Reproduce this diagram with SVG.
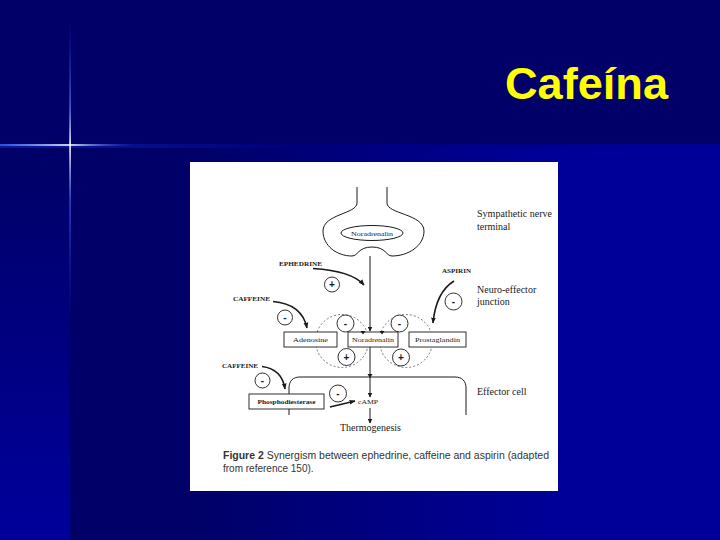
<svg xmlns="http://www.w3.org/2000/svg" width="720" height="540" viewBox="0 0 720 540">
  <defs>
    <linearGradient id="gLow" gradientUnits="userSpaceOnUse" x1="190" y1="0" x2="560" y2="0">
      <stop offset="0" stop-color="#000068"/>
      <stop offset="1" stop-color="#000099"/>
    </linearGradient>
    <linearGradient id="gLeft" gradientUnits="userSpaceOnUse" x1="0" y1="160" x2="0" y2="520">
      <stop offset="0" stop-color="#000068"/>
      <stop offset="1" stop-color="#000099"/>
    </linearGradient>
    <linearGradient id="gBand" gradientUnits="userSpaceOnUse" x1="0" y1="0" x2="720" y2="0">
      <stop offset="0" stop-color="#0a20a8"/>
      <stop offset="0.4" stop-color="#00007c"/>
      <stop offset="1" stop-color="#000099"/>
    </linearGradient>
    <linearGradient id="gV" gradientUnits="userSpaceOnUse" x1="0" y1="20" x2="0" y2="320">
      <stop offset="0" stop-color="#2040ff" stop-opacity="0"/>
      <stop offset="0.3" stop-color="#6f8fff" stop-opacity="0.7"/>
      <stop offset="0.417" stop-color="#ffffff"/>
      <stop offset="0.6" stop-color="#5070ff" stop-opacity="0.6"/>
      <stop offset="1" stop-color="#2040ff" stop-opacity="0"/>
    </linearGradient>
    <linearGradient id="gH" gradientUnits="userSpaceOnUse" x1="0" y1="0" x2="135" y2="0">
      <stop offset="0" stop-color="#3f6cff" stop-opacity="0.8"/>
      <stop offset="0.52" stop-color="#ffffff"/>
      <stop offset="1" stop-color="#2a4cff" stop-opacity="0"/>
    </linearGradient>
    <marker id="ah" viewBox="0 0 10 10" refX="9" refY="5" markerWidth="5" markerHeight="5" markerUnits="userSpaceOnUse" orient="auto">
      <path d="M0,0 L10,5 L0,10 Z" fill="#1a1a1a"/>
    </marker>
    <marker id="ahs" viewBox="0 0 10 10" refX="9" refY="5" markerWidth="6" markerHeight="6" markerUnits="userSpaceOnUse" orient="auto">
      <path d="M0,1 L10,5 L0,9 Z" fill="#1a1a1a"/>
    </marker>
  </defs>
  <style>
    .ln { fill: none; stroke: #1a1a1a; stroke-width: 1; }
    .crv { fill: none; stroke: #1a1a1a; stroke-width: 1.6; }
    .dash { fill: none; stroke: #555; stroke-width: 0.8; stroke-dasharray: 2 2; }
    .box { fill: #fff; stroke: #1a1a1a; stroke-width: 0.9; }
    .sgn { fill: #fff; stroke: #1a1a1a; stroke-width: 0.9; }
    .st { font-family: "Liberation Sans", Arial, sans-serif; fill: #1a1a1a; font-size: 10px; font-weight: bold; text-anchor: middle; }
    .bx { font-family: "Liberation Serif", "Times New Roman", serif; fill: #1a1a1a; font-size: 6.5px; text-anchor: middle; }
    .cap { font-family: "Liberation Serif", "Times New Roman", serif; fill: #1a1a1a; font-size: 6.5px; font-weight: bold; }
    .lbl { font-family: "Liberation Serif", "Times New Roman", serif; fill: #1a1a1a; font-size: 10px; }
    .fig { font-family: "Liberation Sans", Arial, sans-serif; fill: #333; font-size: 10px; }
  </style>

  <!-- background -->
  <rect x="0" y="0" width="720" height="540" fill="#000068"/>
  <rect x="0" y="145" width="720" height="395" fill="url(#gLow)"/>
  <rect x="0" y="145" width="70" height="395" fill="url(#gLeft)"/>
  <rect x="0" y="144" width="720" height="4" fill="url(#gBand)" opacity="0.8"/>
  <rect x="69.3" y="20" width="1.6" height="300" fill="url(#gV)"/>
  <rect x="0" y="144.2" width="135" height="1.6" fill="url(#gH)"/>

  <text x="505" y="99" font-family="Liberation Sans, Arial, sans-serif" font-weight="bold" font-size="45" fill="#ffff00" textLength="163" lengthAdjust="spacingAndGlyphs">Cafeína</text>

  <!-- figure panel -->
  <rect x="190" y="162" width="368" height="329" fill="#ffffff"/>

  <g id="nerve-terminal">
    <path class="ln" d="M357,187 L357,203 C357,214 323,214 323,231 C323,246 337,256 352,256 C358,256 358,247 372,247 C386,247 386,256 392,256 C408,256 424,246 424,231 C424,214 387,214 387,203 L387,187"/>
    <ellipse class="ln" cx="372" cy="233" rx="31" ry="7.5"/>
    <text class="bx" x="372" y="235.5" textLength="42" lengthAdjust="spacingAndGlyphs">Noradrenalin</text>
  </g>

  <g id="label-sympathetic">
    <text class="lbl" x="477" y="217" textLength="75" lengthAdjust="spacingAndGlyphs">Sympathetic nerve</text>
    <text class="lbl" x="477" y="230">terminal</text>
  </g>

  <g id="ephedrine">
    <text class="cap" x="279" y="266" textLength="43" lengthAdjust="spacingAndGlyphs">EPHEDRINE</text>
    <circle class="sgn" cx="332" cy="284.5" r="7.5"/>
    <text class="st" x="332" y="288">+</text>
  </g>

  <g id="caffeine-1">
    <text class="cap" x="233" y="301" textLength="37" lengthAdjust="spacingAndGlyphs">CAFFEINE</text>
    <circle class="sgn" cx="285" cy="317.5" r="7.5"/>
    <text class="st" x="285" y="321">-</text>
  </g>

  <g id="aspirin">
    <text class="cap" x="442" y="273" textLength="29" lengthAdjust="spacingAndGlyphs">ASPIRIN</text>
    <circle class="sgn" cx="453.5" cy="301.5" r="8.5"/>
    <text class="st" x="453.5" y="305">-</text>
  </g>

  <g id="label-junction">
    <text class="lbl" x="477" y="293">Neuro-effector</text>
    <text class="lbl" x="477" y="305">junction</text>
  </g>

  <g id="receptors">
    <circle class="dash" cx="342" cy="341" r="26.5"/>
    <circle class="dash" cx="406" cy="341" r="26.5"/>
    <circle class="sgn" cx="345.5" cy="323.5" r="8.5"/>
    <text class="st" x="345.5" y="327">-</text>
    <circle class="sgn" cx="346.5" cy="357" r="8.5"/>
    <text class="st" x="346.5" y="360.5">+</text>
    <circle class="sgn" cx="399.5" cy="323.5" r="8.5"/>
    <text class="st" x="399.5" y="327">-</text>
    <circle class="sgn" cx="401" cy="357.5" r="8.5"/>
    <text class="st" x="401" y="361">+</text>
  </g>

  <g id="adenosine">
    <rect class="box" x="284" y="332" width="53" height="15"/>
    <text class="bx" x="310.5" y="342" textLength="35" lengthAdjust="spacingAndGlyphs">Adenosine</text>
  </g>
  <g id="noradrenalin">
    <rect class="box" x="348" y="332" width="50" height="15"/>
    <text class="bx" x="373" y="342" textLength="42" lengthAdjust="spacingAndGlyphs">Noradrenalin</text>
    <path d="M360.5,331 L365.5,331 L363,334.5 Z" fill="#1a1a1a"/>
    <path d="M379.5,331 L384.5,331 L382,334.5 Z" fill="#1a1a1a"/>
  </g>
  <g id="prostaglandin">
    <rect class="box" x="409" y="332" width="57" height="15"/>
    <text class="bx" x="437.5" y="342" textLength="45" lengthAdjust="spacingAndGlyphs">Prostaglandin</text>
  </g>

  <g id="effector-cell">
    <path class="ln" d="M289,415 L289,388 C289,381 293,377 300,377 L455,377 C462,377 466,381 466,388 L466,415"/>
    <text class="lbl" x="477" y="395">Effector cell</text>
  </g>

  <g id="caffeine-2">
    <text class="cap" x="222" y="368" textLength="36" lengthAdjust="spacingAndGlyphs">CAFFEINE</text>
    <circle class="sgn" cx="262.5" cy="380.5" r="7.5"/>
    <text class="st" x="262.5" y="384">-</text>
  </g>

  <g id="phosphodiesterase">
    <rect class="box" x="249" y="394" width="75" height="15"/>
    <text class="bx" x="286.5" y="404" font-weight="bold" textLength="58" lengthAdjust="spacingAndGlyphs">Phosphodiesterase</text>
    <circle class="sgn" cx="338" cy="393.5" r="8.5"/>
    <text class="st" x="338" y="397">-</text>
  </g>

  <g id="camp">
    <text class="bx" x="368" y="404" textLength="20" lengthAdjust="spacingAndGlyphs">cAMP</text>
  </g>

  <g id="thermogenesis">
    <text class="lbl" x="340" y="431" textLength="61" lengthAdjust="spacingAndGlyphs">Thermogenesis</text>
  </g>

  <g id="connectors">
    <path class="ln" d="M370,256 L370,331" marker-end="url(#ah)"/>
    <path class="ln" d="M370,347 L370,397" marker-end="url(#ah)"/>
    <path d="M367.5,374 L372.5,374 L370,378 Z" fill="#1a1a1a"/>
    <path class="ln" d="M370,408 L370,423" marker-end="url(#ah)"/>
    <path class="crv" d="M313,268.5 Q352,271 364,285" marker-end="url(#ahs)"/>
    <path class="crv" d="M273,301.5 Q302,304 307,328" marker-end="url(#ahs)"/>
    <path class="crv" d="M454,281 Q436,292 433,323" marker-end="url(#ahs)"/>
    <path class="crv" d="M262,366.5 Q282,369 285,389" marker-end="url(#ahs)"/>
    <path class="crv" d="M330,407 L355,401" marker-end="url(#ahs)"/>
  </g>

  <g id="caption">
    <text class="fig" x="223" y="459" textLength="326" lengthAdjust="spacingAndGlyphs"><tspan font-weight="bold">Figure 2</tspan> Synergism between ephedrine, caffeine and aspirin (adapted</text>
    <text class="fig" x="223" y="472">from reference 150).</text>
  </g>
</svg>
